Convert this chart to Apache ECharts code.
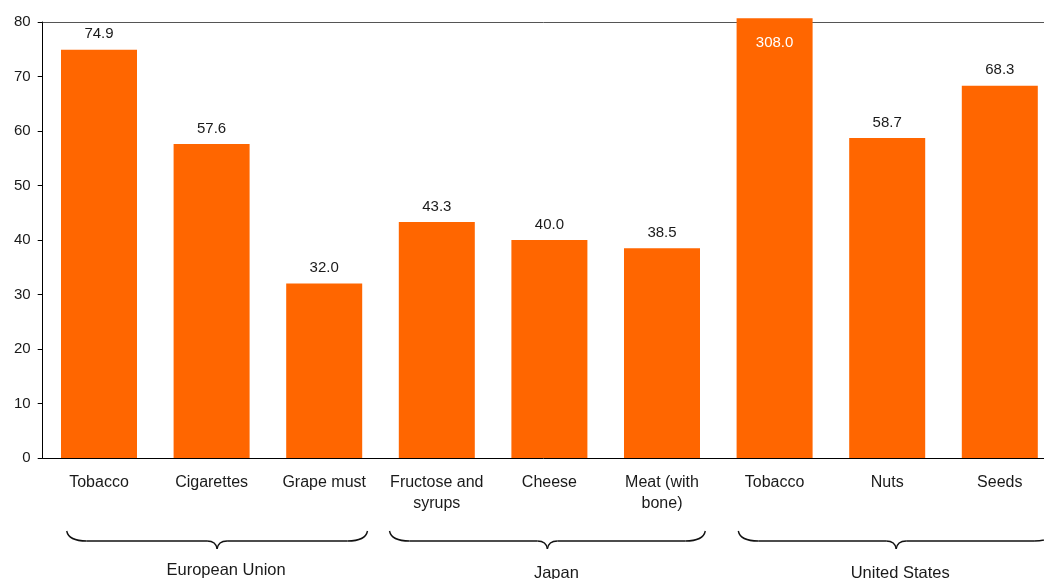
<!DOCTYPE html>
<html><head><meta charset="utf-8">
<script src="https://cdn.jsdelivr.net/npm/echarts@6/dist/echarts.min.js"></script>
<style>html,body{margin:0;padding:0;background:#fff}#c{width:1044px;height:579px}</style>
</head><body><div id="c"></div>
<script>
const categories = ['Tobacco','Cigarettes','Grape must','Fructose and\nsyrups','Cheese','Meat (with\nbone)','Tobacco','Nuts','Seeds'];
const values = [74.9, 57.6, 32.0, 43.3, 40.0, 38.5, 308.0, 58.7, 68.3];
const groupNames = ['European Union', 'Japan', 'United States'];
const groupFrom = [0, 3, 6];
const groupTo = [2, 5, 8];
const yTicks = [0, 10, 20, 30, 40, 50, 60, 70, 80];

const yMax = 80;
const capValue = 80.7; // off-scale bar drawn just past the axis top
const FONT = 'Liberation Sans, Arial, Helvetica, sans-serif';
const chart = echarts.init(document.getElementById('c'));

const seriesData = values.map(v => {
  if (v > yMax) {
    return {value: capValue, real: v,
      label: {position: 'insideTop', distance: 17, color: '#fff'}};
  }
  return {value: v, real: v};
});

chart.setOption({
  animation: false,
  grid: {left: 42.7, width: 1013.4, top: 22, bottom: 121, outerBoundsMode: 'none', containLabel: false},
  xAxis: [{
    type: 'category', data: categories,
    axisLine: {lineStyle: {color: '#000', width: 1}},
    axisTick: {length: 5, lineStyle: {color: '#000'}},
    axisLabel: {color: '#1a1a1a', fontSize: 16, fontFamily: FONT, margin: 14, lineHeight: 21, interval: 0}
  }, {
    type: 'category', data: categories, position: 'top',
    axisLine: {show: true, lineStyle: {color: '#555', width: 1}},
    axisTick: {show: false}, axisLabel: {show: false}
  }],
  yAxis: {
    type: 'value', min: yTicks[0], max: yTicks[yTicks.length - 1], interval: yTicks[1] - yTicks[0],
    axisLine: {show: true, lineStyle: {color: '#000'}},
    axisTick: {show: true, length: 5, lineStyle: {color: '#000'}},
    splitLine: {show: false},
    axisLabel: {color: '#1a1a1a', fontSize: 15, fontFamily: FONT, margin: 12}
  },
  series: [{
    type: 'bar', data: seriesData, clip: false,
    barCategoryGap: '32.5%',
    itemStyle: {color: '#FF6600'},
    label: {
      show: true, position: 'top', distance: 8,
      color: '#1a1a1a', fontSize: 15, fontFamily: FONT,
      formatter: p => p.data.real.toFixed(1)
    }
  }]
});

function drawBraces() {
  // inset of each brace from its group's category boundaries (left, right), and label nudges
  const insets = [[24, 13], [9, 13], [20, 2]];
  const labelDx = [9, 9, 4];
  const labelY = [570, 573, 573];
  const els = [];
  const st = {stroke: '#111', lineWidth: 1.4, fill: null};
  groupNames.forEach((name, i) => {
    const c0 = chart.convertToPixel({xAxisIndex: 0}, groupFrom[i]);
    const c1 = chart.convertToPixel({xAxisIndex: 0}, groupTo[i]);
    const half = (c1 - c0) / (groupTo[i] - groupFrom[i]) / 2;
    const a = c0 - half + insets[i][0];
    const b = c1 + half - insets[i][1];
    const xc = (a + b) / 2;
    const yt = 531, ym = 541, yb = 549;
    els.push({type: 'bezierCurve', shape: {x1: a, y1: yt, cpx1: a + 2, cpy1: ym, x2: a + 20, y2: ym}, style: st});
    els.push({type: 'line', shape: {x1: a + 20, y1: ym, x2: xc - 10, y2: ym}, style: st});
    els.push({type: 'bezierCurve', shape: {x1: xc - 10, y1: ym, cpx1: xc - 1, cpy1: ym, x2: xc, y2: yb}, style: st});
    els.push({type: 'bezierCurve', shape: {x1: xc, y1: yb, cpx1: xc + 1, cpy1: ym, x2: xc + 10, y2: ym}, style: st});
    els.push({type: 'line', shape: {x1: xc + 10, y1: ym, x2: b - 20, y2: ym}, style: st});
    els.push({type: 'bezierCurve', shape: {x1: b - 20, y1: ym, cpx1: b - 2, cpy1: ym, x2: b, y2: yt}, style: st});
    els.push({type: 'text', x: xc + labelDx[i], y: labelY[i], style: {text: name, fill: '#1a1a1a', font: '16.5px ' + FONT, textAlign: 'center', textVerticalAlign: 'middle'}});
  });
  chart.setOption({graphic: els});
}
drawBraces();
</script>
</body></html>
